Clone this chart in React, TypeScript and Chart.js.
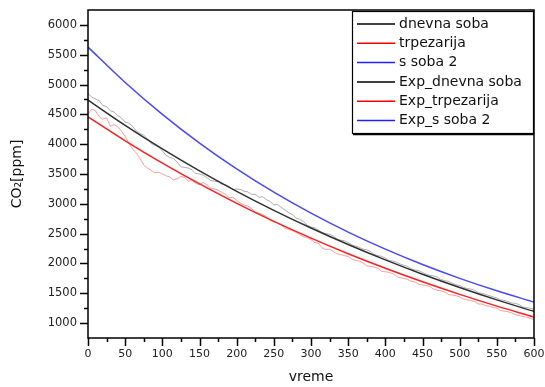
import React, { useEffect, useRef } from "react";
import { Chart, registerables } from "chart.js";

Chart.register(...registerables);

// ---------- data ----------
const rawTimes = [
  0, 5, 10, 15, 20, 25, 30, 35, 40, 45,
  50, 55, 60, 65, 70, 75, 80, 85, 90, 95,
  100, 105, 110, 115, 120, 125, 130, 135, 140, 145,
  150, 155, 160, 165, 170, 175, 180, 185, 190, 195,
  200, 205, 210, 215, 220, 225, 230, 235, 240, 245,
  250, 255, 260, 265, 270, 275, 280, 285, 290, 295,
  300, 305, 310, 315, 320, 325, 330, 335, 340, 345,
  350, 355, 360, 365, 370, 375, 380, 385, 390, 395,
  400, 405, 410, 415, 420, 425, 430, 435, 440, 445,
  450, 455, 460, 465, 470, 475, 480, 485, 490, 495,
  500, 505, 510, 515, 520, 525, 530, 535, 540, 545,
  550, 555, 560, 565, 570, 575, 580, 585, 590, 595,
  600,
];
const dnevnaSobaRaw = [
  4850, 4790, 4760, 4730, 4650, 4630, 4560, 4540, 4480, 4440,
  4370, 4350, 4300, 4220, 4180, 4150, 4090, 4010, 3980, 3950,
  3890, 3810, 3780, 3760, 3700, 3620, 3610, 3600, 3570, 3510,
  3500, 3480, 3440, 3390, 3380, 3370, 3330, 3320, 3290, 3240,
  3250, 3240, 3210, 3200, 3160, 3160, 3110, 3120, 3070, 3040,
  2980, 2990, 2940, 2900, 2850, 2820, 2760, 2740, 2700, 2640,
  2610, 2600, 2560, 2520, 2500, 2490, 2460, 2410, 2390, 2380,
  2350, 2310, 2290, 2270, 2240, 2230, 2200, 2150, 2130, 2120,
  2090, 2050, 2040, 2020, 1990, 1970, 1950, 1910, 1890, 1880,
  1850, 1820, 1800, 1790, 1770, 1730, 1710, 1700, 1670, 1640,
  1630, 1600, 1580, 1570, 1550, 1510, 1500, 1480, 1460, 1440,
  1420, 1390, 1380, 1360, 1340, 1330, 1310, 1270, 1260, 1250,
  1230,
];
const trpezarijaRaw = [
  4500, 4590, 4560, 4460, 4420, 4440, 4300, 4330, 4290, 4220,
  4130, 4020, 3920, 3850, 3760, 3650, 3600, 3560, 3520, 3530,
  3500, 3470, 3450, 3400, 3420, 3460, 3440, 3380, 3390, 3340,
  3320, 3360, 3320, 3260, 3250, 3230, 3190, 3160, 3100, 3110,
  3060, 3010, 2980, 2960, 2920, 2860, 2840, 2820, 2780, 2720,
  2700, 2680, 2640, 2590, 2570, 2550, 2520, 2480, 2450, 2430,
  2400, 2350, 2340, 2260, 2230, 2240, 2200, 2160, 2150, 2130,
  2120, 2070, 2050, 2040, 2010, 1960, 1950, 1940, 1920, 1870,
  1860, 1850, 1830, 1780, 1760, 1750, 1730, 1700, 1690, 1650,
  1640, 1630, 1610, 1570, 1550, 1540, 1520, 1480, 1470, 1460,
  1440, 1400, 1390, 1380, 1360, 1320, 1320, 1290, 1280, 1260,
  1250, 1210, 1200, 1190, 1170, 1140, 1130, 1110, 1100, 1080,
  1060,
];
const sSoba2Raw: number[] = [];

const fitTimes = [0, 50, 100, 150, 200, 250, 300, 350, 400, 450, 500, 550, 600];
const expDnevnaSoba = [4740, 4316, 3920, 3552, 3210, 2891, 2594, 2317, 2060, 1820, 1597, 1389, 1196];
const expTrpezarija = [4457, 4055, 3681, 3333, 3008, 2706, 2425, 2163, 1919, 1692, 1481, 1284, 1101];
const expSSoba2 = [5628, 5035, 4501, 4019, 3586, 3195, 2843, 2525, 2240, 1982, 1750, 1541, 1352];

const seriesNames = ["dnevna soba", "trpezarija", "s soba 2", "Exp_dnevna soba", "Exp_trpezarija", "Exp_s soba 2"];

const xTicks = [0, 50, 100, 150, 200, 250, 300, 350, 400, 450, 500, 550, 600];
const xMinorTicks = [25, 75, 125, 175, 225, 275, 325, 375, 425, 475, 525, 575];
const yTicks = [1000, 1500, 2000, 2500, 3000, 3500, 4000, 4500, 5000, 5500, 6000];
const yMinorTicks = [1250, 1750, 2250, 2750, 3250, 3750, 4250, 4750, 5250, 5750];

const xTitle = "vreme";
const yTitle = "CO\u2082[ppm]";

// ---------- styles ----------
const FONT = "'DejaVu Sans', 'Liberation Sans', sans-serif";
const legendColors = ["#000000", "#ff0000", "#2020ff", "#000000", "#ff0000", "#2020ff"];

const pts = (xs: number[], ys: number[]) => ys.map((y, i) => ({ x: xs[i], y }));

const framePlugin = {
  id: "frameTicksLegend",
  afterDraw(chart: any) {
    const ctx = chart.ctx as CanvasRenderingContext2D;
    const { left, right, top, bottom } = chart.chartArea;
    const xs = chart.scales.x;
    const ys = chart.scales.y;
    ctx.save();
    ctx.strokeStyle = "#000";
    ctx.lineWidth = 1.5;
    ctx.strokeRect(left, top, right - left, bottom - top);
    ctx.beginPath();
    xTicks.forEach((v) => {
      const px = Math.round(xs.getPixelForValue(v)) + 0.5;
      ctx.moveTo(px, bottom);
      ctx.lineTo(px, bottom + 8);
    });
    xMinorTicks.forEach((v) => {
      const px = Math.round(xs.getPixelForValue(v)) + 0.5;
      ctx.moveTo(px, bottom);
      ctx.lineTo(px, bottom + 4);
    });
    yTicks.forEach((v) => {
      const py = Math.round(ys.getPixelForValue(v)) + 0.5;
      ctx.moveTo(left, py);
      ctx.lineTo(left - 8, py);
    });
    yMinorTicks.forEach((v) => {
      const py = Math.round(ys.getPixelForValue(v)) + 0.5;
      ctx.moveTo(left, py);
      ctx.lineTo(left - 4, py);
    });
    ctx.stroke();

    // legend box
    const w = 182;
    const h = 122;
    const x0 = right - w;
    const y0 = top + 1;
    ctx.fillStyle = "#fff";
    ctx.fillRect(x0, y0, w, h);
    ctx.lineWidth = 1.2;
    ctx.strokeStyle = "#000";
    ctx.strokeRect(x0 + 0.5, y0 + 0.5, w - 1, h);
    ctx.lineWidth = 1.5;
    ctx.beginPath();
    ctx.moveTo(x0 + 1, y0 + h + 1.5);
    ctx.lineTo(x0 + w, y0 + h + 1.5);
    ctx.stroke();
    ctx.font = `14px ${FONT}`;
    ctx.textBaseline = "middle";
    ctx.textAlign = "left";
    seriesNames.forEach((name, i) => {
      const cy = y0 + 13 + i * 19.3;
      ctx.strokeStyle = legendColors[i];
      ctx.lineWidth = 1.5;
      ctx.beginPath();
      ctx.moveTo(x0 + 5, cy);
      ctx.lineTo(x0 + 43, cy);
      ctx.stroke();
      ctx.fillStyle = "#111";
      ctx.fillText(name, x0 + 47, cy);
    });
    ctx.restore();
  },
};

export default function App() {
  const canvasRef = useRef<HTMLCanvasElement | null>(null);

  useEffect(() => {
    if (!canvasRef.current) return;
    const chart = new Chart(canvasRef.current, {
      type: "line",
      data: {
        datasets: [
          {
            label: seriesNames[0],
            data: pts(rawTimes, dnevnaSobaRaw),
            borderColor: "rgba(0,0,0,0.32)",
            borderWidth: 1,
            tension: 0,
            order: 2,
          },
          {
            label: seriesNames[1],
            data: pts(rawTimes, trpezarijaRaw),
            borderColor: "rgba(255,0,0,0.38)",
            borderWidth: 1,
            tension: 0,
            order: 2,
          },
          {
            label: seriesNames[2],
            data: pts(rawTimes, sSoba2Raw),
            borderColor: "rgba(0,0,255,0.3)",
            borderWidth: 1,
            order: 2,
          },
          {
            label: seriesNames[3],
            data: pts(fitTimes, expDnevnaSoba),
            borderColor: "#303030",
            borderWidth: 1.5,
            cubicInterpolationMode: "monotone",
            order: 1,
          },
          {
            label: seriesNames[4],
            data: pts(fitTimes, expTrpezarija),
            borderColor: "#ff2020",
            borderWidth: 1.5,
            cubicInterpolationMode: "monotone",
            order: 1,
          },
          {
            label: seriesNames[5],
            data: pts(fitTimes, expSSoba2),
            borderColor: "#4848ff",
            borderWidth: 1.5,
            cubicInterpolationMode: "monotone",
            order: 1,
          },
        ],
      },
      options: {
        animation: false,
        responsive: true,
        maintainAspectRatio: false,
        layout: { padding: { top: 10, right: 11, left: 0, bottom: 0 } },
        elements: { point: { radius: 0 } },
        plugins: { legend: { display: false }, tooltip: { enabled: false } },
        scales: {
          x: {
            type: "linear",
            min: 0,
            max: 600,
            afterBuildTicks: (s: any) => {
              s.ticks = xTicks.map((v) => ({ value: v }));
            },
            afterFit: (s: any) => {
              s.height = 49;
              s.paddingLeft = 0;
              s.paddingRight = 0;
            },
            grid: { display: false, drawTicks: false },
            border: { display: false },
            ticks: {
              padding: 10,
              color: "#222",
              maxRotation: 0,
              autoSkip: false,
              font: { family: FONT, size: 11 },
              callback: (v: any) => String(v),
            },
            title: {
              display: true,
              text: xTitle,
              color: "#111",
              font: { family: FONT, size: 14 },
              padding: { top: 0, bottom: 1 },
            },
          },
          y: {
            type: "linear",
            min: 750,
            max: 6250,
            afterBuildTicks: (s: any) => {
              s.ticks = yTicks.map((v) => ({ value: v }));
            },
            afterFit: (s: any) => {
              s.width = 88;
              s.paddingTop = 0;
              s.paddingBottom = 0;
            },
            grid: { display: false, drawTicks: false },
            border: { display: false },
            ticks: {
              padding: 11,
              color: "#222",
              autoSkip: false,
              font: { family: FONT, size: 11.5 },
              callback: (v: any) => String(v),
            },
            title: {
              display: true,
              text: yTitle,
              color: "#111",
              font: { family: FONT, size: 14 },
              padding: { top: 9, bottom: 0 },
            },
          },
        },
      },
      plugins: [framePlugin],
    } as any);
    return () => chart.destroy();
  }, []);

  return (
    <div style={{ position: "fixed", left: 0, top: 0, width: 545, height: 387, background: "#fff" }}>
      <canvas ref={canvasRef} />
    </div>
  );
}
